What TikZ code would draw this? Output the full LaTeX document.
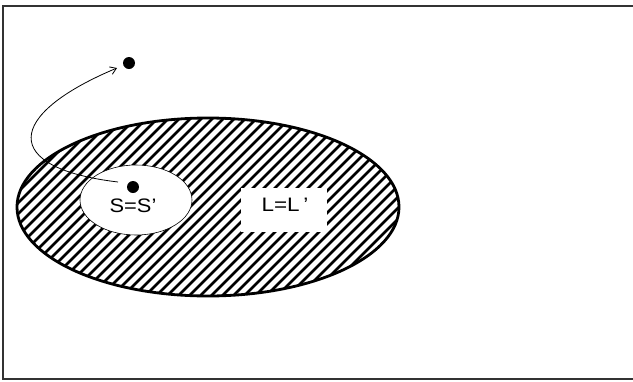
\documentclass[tikz,border=0pt]{standalone}
\usepackage{fontspec}
\setmainfont{Liberation Sans}
\usetikzlibrary{arrows.meta}
\begin{document}
\begin{tikzpicture}[x=1pt,y=-1pt,
  frameline/.style={line width=1.6pt,draw=black!80},
  dotmark/.style={circle,fill=black,inner sep=0pt,minimum size=12pt},
  label/.style={font=\fontsize{19.5}{22}\selectfont,inner sep=0pt},
  outline/.style={line width=2.8pt},
  hatchline/.style={line width=2.6pt}]
\useasboundingbox (0,0) rectangle (633,381);
% open frame: top, left and bottom sides
\draw[frameline] (633,6) -- (3,6) -- (3,379) -- (633,379);
% hatched region L
\begin{scope}
  \clip (208,207) ellipse [x radius=191, y radius=89];
  \foreach \k in {-25,...,50}
    \draw[hatchline] (\k*11,320) -- (\k*11+220,100);
\end{scope}
\draw[outline] (208,207) ellipse [x radius=191, y radius=89];
% inner region S
\draw[fill=white,line width=0.6pt] (136,200) ellipse [x radius=56, y radius=35];
\node[fill=white,minimum width=86pt,minimum height=44pt] (lbox) at (284,210) {};
\node[label] (ltext) at (285,205) {\scalebox{1.15}[1]{L=L\,'}};
\node[label] (stext) at (133,206) {\scalebox{1.12}[1]{S=S'}};
% points
\node[dotmark] (sdot) at (133,187) {};
\node[dotmark] (tdot) at (129,63) {};
\coordinate (start) at (118,182);
\coordinate (tip) at (117,68);
\draw[-{Straight Barb[length=6pt,width=8pt]},line width=0.8pt]
  (start) .. controls (0,168) and (5,115) .. (tip);
\end{tikzpicture}
\end{document}
